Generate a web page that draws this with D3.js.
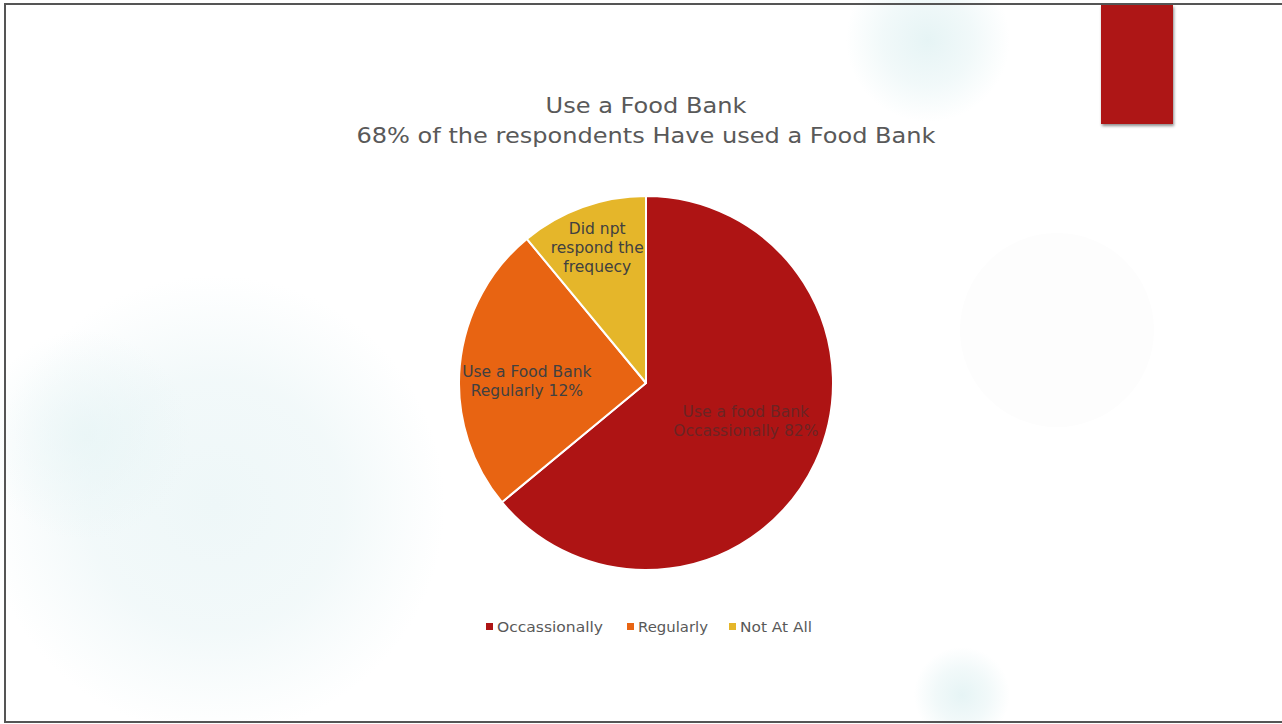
<!DOCTYPE html>
<html>
<head>
<meta charset="utf-8">
<script src="https://cdn.jsdelivr.net/npm/d3@7"></script>
<style>
  html, body { margin: 0; padding: 0; background: #fff; }
  svg { display: block; }
</style>
</head>
<body>
<svg id="chart" width="1282" height="724"></svg>
<script>
// Survey answers: how often respondents use a food bank
const categories = ["Occassionally", "Regularly", "Not At All"];
const values = [64, 25, 11];
const sliceLabels = [
  ["Use a food Bank", "Occassionally 82%"],
  ["Use a Food Bank", "Regularly 12%"],
  ["Did npt", "respond the", "frequecy"]
];
const titleLines = ["Use a Food Bank", "68% of the respondents Have used a Food  Bank"];
const colors = ["#ae1414", "#e86412", "#e5b62a"];

const svg = d3.select("#chart");
const W = 1282, H = 724;
const FONT = "'DejaVu Sans', 'Noto Sans', sans-serif";

// soft decorative glows in the slide background
const defs = svg.append("defs");
const glows = [
  { id: "g1", cx: 215, cy: 505, r: 230, c: "#eef7f8", o: 1, mid: 0.75 },
  { id: "g2", cx: 85, cy: 435, r: 105, c: "#e6f4f5", o: 0.7, mid: 0.45 },
  { id: "g3", cx: 928, cy: 40, r: 82, c: "#e6f4f5", o: 1, mid: 0.55 },
  { id: "g4", cx: 962, cy: 695, r: 48, c: "#e6f4f5", o: 1, mid: 0.55 }
];
glows.forEach(g => {
  const grad = defs.append("radialGradient").attr("id", g.id);
  grad.append("stop").attr("offset", "0%").attr("stop-color", g.c).attr("stop-opacity", g.o);
  grad.append("stop").attr("offset", "55%").attr("stop-color", g.c).attr("stop-opacity", g.o * g.mid);
  grad.append("stop").attr("offset", "100%").attr("stop-color", g.c).attr("stop-opacity", 0);
  svg.append("circle").attr("cx", g.cx).attr("cy", g.cy).attr("r", g.r)
    .attr("fill", `url(#${g.id})`);
});
// faint flat disc on the right
svg.append("circle").attr("cx", 1057).attr("cy", 330).attr("r", 97).attr("fill", "#fdfdfd");

// slide frame (top, left, bottom edges)
const frame = svg.append("g").attr("stroke", "#555").attr("stroke-width", 2).attr("fill", "none");
frame.append("path").attr("d", `M5,723 L5,4 L${W},4`);
frame.append("line").attr("x1", 5).attr("y1", 722).attr("x2", W).attr("y2", 722);

// red tab with drop shadow
const shadow = defs.append("filter").attr("id", "shadow")
  .attr("x", "-20%").attr("y", "-10%").attr("width", "150%").attr("height", "130%");
shadow.append("feDropShadow").attr("dx", 1).attr("dy", 2).attr("stdDeviation", 1.5)
  .attr("flood-color", "#000").attr("flood-opacity", 0.45);
svg.append("rect").attr("x", 1101).attr("y", 5).attr("width", 72).attr("height", 119)
  .attr("fill", "#ae1414").attr("filter", "url(#shadow)");

// title
const title = svg.append("text").attr("text-anchor", "middle")
  .attr("font-family", FONT).attr("font-size", 22).attr("fill", "#595959");
titleLines.forEach((t, i) => {
  title.append("tspan").attr("x", 646).attr("y", 113 + i * 30).text(t)
    .attr("textLength", i === 0 ? 201 : 579).attr("lengthAdjust", "spacingAndGlyphs");
});

// pie
const cx = 646, cy = 383, R = 187;
const pie = d3.pie().value(d => d).sort(null);
const arcs = pie(values);
const arc = d3.arc().innerRadius(0).outerRadius(R);
const g = svg.append("g").attr("transform", `translate(${cx},${cy})`);
g.selectAll("path.slice").data(arcs).join("path")
  .attr("class", "slice")
  .attr("d", arc)
  .attr("fill", (d, i) => colors[i])
  .attr("stroke", "#fff").attr("stroke-width", 2).attr("stroke-linejoin", "round");

// slice labels placed along each slice's bisector
const labelRadius = [0.59, 0.64, 0.77];
const labelShift = [-8, 10, 0];
const labelFill = ["#6b2424", "#404040", "#404040"];
arcs.forEach((d, i) => {
  const r = R * labelRadius[i];
  const la = d3.arc().innerRadius(r).outerRadius(r);
  const [lx, ly] = la.centroid(d);
  const lines = sliceLabels[i];
  const t = g.append("text").attr("text-anchor", "middle")
    .attr("font-family", FONT).attr("font-size", 15.5).attr("fill", labelFill[i]);
  lines.forEach((s, j) => {
    t.append("tspan").attr("x", lx)
      .attr("y", ly + labelShift[i] + (j - (lines.length - 1) / 2) * 19 + 5).text(s);
  });
});

// legend
const legendX = [486, 627, 729];
const legendW = [106, 70, 72];
const legend = svg.append("g").attr("font-family", FONT).attr("font-size", 14.5).attr("fill", "#595959");
categories.forEach((c, i) => {
  legend.append("rect").attr("x", legendX[i]).attr("y", 623).attr("width", 7).attr("height", 7)
    .attr("fill", colors[i]);
  legend.append("text").attr("x", legendX[i] + 11).attr("y", 632).text(c)
    .attr("textLength", legendW[i]).attr("lengthAdjust", "spacingAndGlyphs");
});
</script>
</body>
</html>
